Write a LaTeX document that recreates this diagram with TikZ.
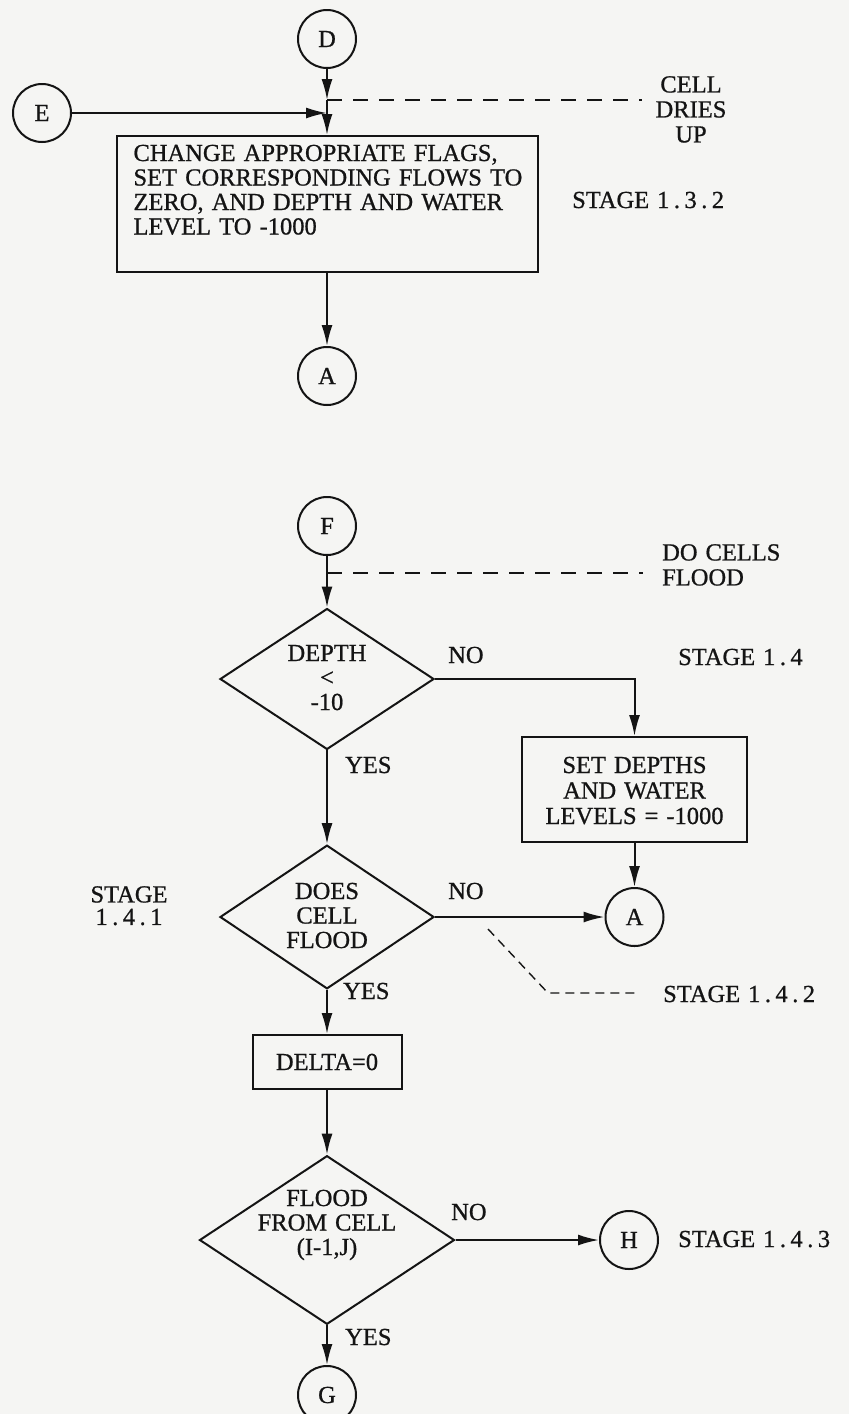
\documentclass[tikz,border=0pt]{standalone}
\usepackage{fontspec}
\setmainfont{Liberation Serif}[WordSpace=1.3, FakeBold=0.8]
\usetikzlibrary{shapes.geometric,arrows.meta}
\definecolor{paper}{RGB}{245,245,243}
\definecolor{ink}{RGB}{20,20,20}
\newcommand{\dt}{\kern4.5pt.\kern4.5pt}
\tikzset{
  conn/.style={draw=ink, line width=2pt, -{Latex[length=21pt,width=11pt]}},
  dsh/.style={draw=ink, line width=1.6pt, dash pattern=on 15pt off 11pt},
  dshs/.style={draw=ink, line width=1.4pt, dash pattern=on 9pt off 6pt},
  circ/.style={circle, draw=ink, line width=2pt, minimum size=58pt, inner sep=0pt, text=ink},
  boxA/.style={rectangle, draw=ink, line width=2pt, inner sep=2pt, text=ink},
  dia/.style={diamond, draw=ink, line width=2pt, inner sep=0pt, align=center, text depth=0pt, text=ink},
  lbl/.style={inner sep=0pt, text=ink},
}
\begin{document}
\begin{tikzpicture}[x=1pt, y=-1pt, font=\fontsize{24.5}{24.5}\selectfont]
\useasboundingbox (0,0) rectangle (849,1414);
\fill[paper] (0,0) rectangle (849,1414);

% ---------- upper part ----------
\node[circ] (D) at (327,39) {D};
\node[circ] (E) at (42,113) {E};
\coordinate (J) at (327,100);
\coordinate (Jend) at (642,100);
\node[boxA, minimum width=421pt, minimum height=136pt, text width=387pt,
      inner xsep=17pt, align=left, text height=16pt, text depth=102pt] (B1) at (327,204)
  {\mbox{CHANGE APPROPRIATE FLAGS,}\\\mbox{SET CORRESPONDING FLOWS TO}\\\mbox{ZERO, AND DEPTH AND WATER}\\\mbox{LEVEL TO -1000}};
\node[circ] (A1) at (327,376) {A};

\draw[conn] (D) -- (J);
\draw[conn] (J) -- (B1.north);
\draw[conn] (E) -- (E -| J);
\draw[dsh] (J) -- (Jend);
\draw[conn] (B1) -- (A1);

\node[lbl, anchor=north, align=center] (cdu) at (691,76) {CELL\\[0.5pt]DRIES\\[0.5pt]UP};
\node[lbl, anchor=base west] (s132) at (572,208) {STAGE 1\dt3\dt2};

% ---------- lower part ----------
\node[circ] (F) at (327,526) {F};
\coordinate (K) at (327,573);
\coordinate (Kend) at (643,573);
\node[dia, minimum width=214pt, minimum height=123pt, text height=62pt] (D1) at (327,679)
  {DEPTH\\\textless\\-10};
\node[boxA, minimum width=225pt, minimum height=105pt, align=center,
      text height=69pt, text depth=0pt] (B2) at (634.5,789.5)
  {SET DEPTHS\\[1pt]AND WATER\\[1pt]LEVELS = -1000};
\node[circ] (A2) at (634.5,917) {A};
\node[dia, minimum width=214pt, minimum height=123pt, text height=62pt] (D2) at (327,917)
  {DOES\\CELL\\FLOOD};
\node[boxA, minimum width=149pt, minimum height=54pt] (DB) at (327,1062) {DELTA=0};
\node[dia, minimum width=255pt, minimum height=165pt, text height=30pt] (D3) at (327,1240)
  {FLOOD\\FROM CELL\\(I-1,J)};
\node[circ] (H) at (629,1240) {H};
\node[circ] (G) at (327,1395) {G};

\coordinate (q1) at (488,929);
\coordinate (q2) at (548,993);
\coordinate (q3) at (637,993);

\draw[conn] (F) -- (D1);
\draw[dsh] (K) -- (Kend);
\draw[conn] (D1.east) -| (B2.north);
\draw[conn] (B2) -- (A2);
\draw[conn] (D1) -- (D2);
\draw[conn] (D2.east) -- (A2);
\draw[dshs] (q1) -- (q2) -- (q3);
\draw[conn] (D2) -- (DB);
\draw[conn] (DB) -- (D3);
\draw[conn] (D3.east) -- (H);
\draw[conn] (D3) -- (G);

\node[lbl, anchor=north west, align=left] (dcf) at (662,544) {DO CELLS\\[0.5pt]FLOOD};
\node[lbl, anchor=base west] (no1) at (448,663) {NO};
\node[lbl, anchor=base west] (s14) at (678,665) {STAGE 1\dt4};
\node[lbl, anchor=base west] (yes1) at (345,773) {YES};
\node[lbl, anchor=north, align=center] (s141) at (129,886) {STAGE\\[-2pt]1\dt4\dt1};
\node[lbl, anchor=base west] (no2) at (448,899) {NO};
\node[lbl, anchor=base west] (yes2) at (343,999) {YES};
\node[lbl, anchor=base west] (s142) at (663,1002) {STAGE 1\dt4\dt2};
\node[lbl, anchor=base west] (no3) at (451,1220) {NO};
\node[lbl, anchor=base west] (s143) at (678,1247) {STAGE 1\dt4\dt3};
\node[lbl, anchor=base west] (yes3) at (345,1345) {YES};
\end{tikzpicture}
\end{document}
